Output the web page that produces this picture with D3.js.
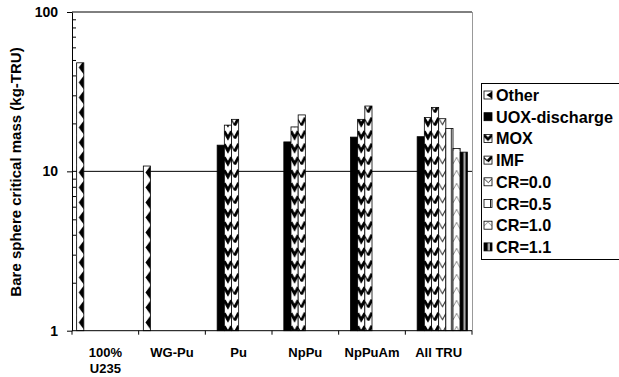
<!DOCTYPE html>
<html>
<head>
<meta charset="utf-8">
<script src="https://cdn.jsdelivr.net/npm/d3@7"></script>
<style>
body { margin: 0; background: #fff; }
text { font-family: Arial, "Liberation Sans", sans-serif; font-weight: bold; }
</style>
</head>
<body>
<script>
var categories = ['100%|U235', 'WG-Pu', 'Pu', 'NpPu', 'NpPuAm', 'All TRU'];
var seriesNames = ['Other', 'UOX-discharge', 'MOX', 'IMF', 'CR=0.0', 'CR=0.5', 'CR=1.0', 'CR=1.1'];

// values per series, one per category (null = no bar)
var other = [48, 10.8, null, null, null, null];
var uox   = [null, null, 14.6, 15.3, 16.4, 16.5];
var mox   = [null, null, 19.5, 19.0, 21.2, 21.8];
var imf   = [null, null, 21.2, 22.6, 25.7, 25.2];
var cr00  = [null, null, null, null, null, 21.4];
var cr05  = [null, null, null, null, null, 18.6];
var cr10  = [null, null, null, null, null, 13.9];
var cr11  = [null, null, null, null, null, 13.2];

var allSeries = [other, uox, mox, imf, cr00, cr05, cr10, cr11];

var yMajor = [1, 10, 100];
var yMinor = [2, 3, 4, 5, 6, 7, 8, 9, 20, 30, 40, 50, 60, 70, 80, 90];

var plotLeft = 72, plotRight = 472, plotTop = 12, plotBottom = 330.7;

var svg = d3.select('body').append('svg')
	.attr('width', 619)
	.attr('height', 377);

var defs = svg.append('defs');

var x0 = d3.scaleBand()
	.domain(categories)
	.range([plotLeft, plotRight]);

var x1 = d3.scaleBand()
	.domain(seriesNames)
	.range([0, x0.bandwidth()])
	.paddingOuter(0.65);

var y = d3.scaleLog()
	.domain([1, 100])
	.range([plotBottom, plotTop]);

// fill patterns, drawn for a box of width w
var drawPattern = function(p, idx, w, h) {
	if (idx == 1) {
		p.append('rect').attr('width', w).attr('height', h).attr('fill', '#000');
		return;
	}
	p.append('rect').attr('width', w).attr('height', h).attr('fill', '#fff');
	if (idx == 0) {
		p.append('polygon')
			.attr('points', [[w, 0.5], [w * 0.3, h / 2], [w, h - 0.5]].join(' '))
			.attr('fill', '#000');
	} else if (idx == 2) {
		p.append('path')
			.attr('d', 'M0,' + (h * 0.1) + 'L' + (w / 2) + ',' + (h * 0.6) + 'L' + w + ',' + (h * 0.1))
			.attr('fill', 'none').attr('stroke', '#000').attr('stroke-width', 2.8);
	} else if (idx == 3) {
		p.append('path')
			.attr('d', 'M0,' + (h * 0.2) + 'L' + (w * 0.45) + ',' + (h * 0.65))
			.attr('fill', 'none').attr('stroke', '#000').attr('stroke-width', 1.2);
		p.append('path')
			.attr('d', 'M' + (w * 0.45) + ',' + (h * 0.65) + 'L' + w + ',' + (h * 0.05))
			.attr('fill', 'none').attr('stroke', '#000').attr('stroke-width', 2.8);
	} else if (idx == 4) {
		p.append('path')
			.attr('d', 'M0,' + (h * 0.1) + 'L' + (w * 0.55) + ',' + (h * 0.6) + 'L' + w + ',' + (h * 0.1))
			.attr('fill', 'none').attr('stroke', '#333').attr('stroke-width', 1);
	} else if (idx == 5) {
		p.append('rect').attr('x', w - 2).attr('width', 1).attr('height', h).attr('fill', '#222');
	} else if (idx == 6) {
		p.append('path')
			.attr('d', 'M0,' + (h * 0.6) + 'L' + (w * 0.5) + ',' + (h * 0.1) + 'L' + w + ',' + (h * 0.6))
			.attr('fill', 'none').attr('stroke', '#666').attr('stroke-width', 0.8);
	} else if (idx == 7) {
		p.select('rect').attr('fill', '#000');
		p.append('rect').attr('x', w * 0.45).attr('width', w * 0.3).attr('height', h).attr('fill', '#aaa');
	}
};

// gridlines
svg.append('g')
	.selectAll('line')
	.data([10, 100]).enter()
	.append('line')
	.attr('x1', plotLeft)
	.attr('x2', plotRight)
	.attr('y1', function(d) { return y(d); })
	.attr('y2', function(d) { return y(d); })
	.attr('stroke', '#000')
	.attr('stroke-width', 1);

// right edge of plot area
svg.append('line')
	.attr('x1', plotRight + 0.5)
	.attr('x2', plotRight + 0.5)
	.attr('y1', plotTop)
	.attr('y2', plotBottom)
	.attr('stroke', '#999');

// bars
var bars = [];
allSeries.forEach(function(vals, si) {
	vals.forEach(function(v, ci) {
		if (v != null) bars.push({ s: si, c: ci, value: v });
	});
});

bars.forEach(function(d, i) {
	var bx = x0(categories[d.c]) + x1(seriesNames[d.s]);
	var ph = d.s == 0 ? 15 : 13;
	var p = defs.append('pattern')
		.attr('id', 'bar' + i)
		.attr('patternUnits', 'userSpaceOnUse')
		.attr('x', bx)
		.attr('y', 0)
		.attr('width', x1.bandwidth())
		.attr('height', ph);
	drawPattern(p, d.s, x1.bandwidth(), ph);
	d.x = bx;
});

svg.append('g')
	.selectAll('rect')
	.data(bars).enter()
	.append('rect')
	.attr('x', function(d) { return d.x; })
	.attr('y', function(d) { return y(d.value); })
	.attr('width', x1.bandwidth())
	.attr('height', function(d) { return y(1) - y(d.value); })
	.attr('fill', function(d, i) { return 'url(#bar' + i + ')'; })
	.attr('stroke', '#000')
	.attr('stroke-width', 0.8);

// y axis
var yAxis = svg.append('g')
	.attr('transform', 'translate(' + plotLeft + ',0)')
	.call(d3.axisLeft(y).tickValues(yMajor).tickFormat(d3.format('d')).tickSize(5).tickSizeOuter(0).tickPadding(9));
yAxis.selectAll('text').attr('font-size', 14).attr('fill', '#000');
yAxis.selectAll('line, path').attr('stroke', '#000');

var yMinorAxis = svg.append('g')
	.attr('transform', 'translate(' + plotLeft + ',0)')
	.call(d3.axisRight(y).tickValues(yMinor).tickFormat('').tickSize(4).tickSizeOuter(0));
yMinorAxis.select('.domain').remove();
yMinorAxis.selectAll('line').attr('stroke', '#000');

// x axis
svg.append('line')
	.attr('x1', plotLeft)
	.attr('x2', plotRight)
	.attr('y1', plotBottom)
	.attr('y2', plotBottom)
	.attr('stroke', '#000');

var bounds = categories.map(function(c) { return x0(c); }).concat([plotRight]);
svg.append('g')
	.selectAll('line')
	.data(bounds).enter()
	.append('line')
	.attr('x1', function(d) { return d; })
	.attr('x2', function(d) { return d; })
	.attr('y1', plotBottom)
	.attr('y2', plotBottom + 4)
	.attr('stroke', '#000');

var xLabels = svg.append('g')
	.selectAll('text')
	.data(categories).enter()
	.append('text')
	.attr('x', function(d) { return x0(d) + x0.bandwidth() / 2; })
	.attr('y', 356.5)
	.attr('text-anchor', 'middle')
	.attr('font-size', 13);

xLabels.each(function(d) {
	var parts = d.split('|');
	var t = d3.select(this);
	parts.forEach(function(s, k) {
		t.append('tspan')
			.attr('x', x0(d) + x0.bandwidth() / 2)
			.attr('dy', k == 0 ? 0 : 16.5)
			.text(s);
	});
});

// y title
svg.append('text')
	.attr('transform', 'translate(21,172) rotate(-90)')
	.attr('text-anchor', 'middle')
	.attr('font-size', 15)
	.text('Bare sphere critical mass (kg-TRU)');

// legend
var legend = svg.append('g');
legend.append('rect')
	.attr('x', 481.5)
	.attr('y', 83.5)
	.attr('width', 140)
	.attr('height', 176)
	.attr('fill', '#fff')
	.attr('stroke', '#000');

for (var i = 0; i < seriesNames.length; i++) {
	var ly = 95 + i * 21.7;
	var lp = defs.append('pattern')
		.attr('id', 'leg' + i)
		.attr('patternUnits', 'userSpaceOnUse')
		.attr('x', 484)
		.attr('y', ly - 4)
		.attr('width', 8)
		.attr('height', 8);
	drawPattern(lp, i, 8, 8);

	legend.append('rect')
		.attr('x', 484)
		.attr('y', ly - 4)
		.attr('width', 8)
		.attr('height', 8)
		.attr('fill', 'url(#leg' + i + ')')
		.attr('stroke', '#000')
		.attr('stroke-width', 0.8);

	legend.append('text')
		.attr('x', 496)
		.attr('y', ly + 6)
		.attr('font-size', 16.2)
		.text(seriesNames[i]);
}
</script>
</body>
</html>
